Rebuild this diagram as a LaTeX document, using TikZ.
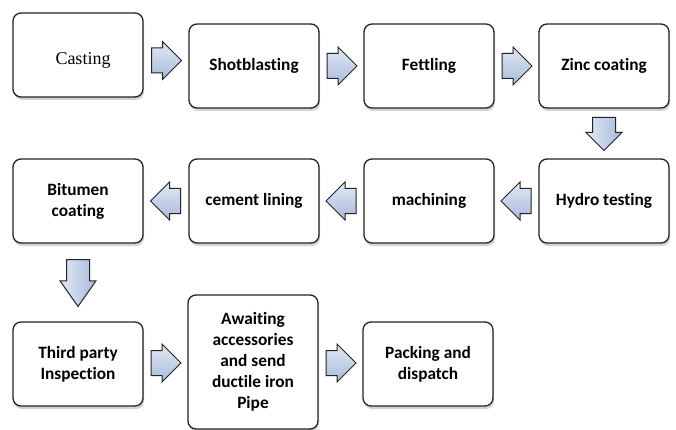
\documentclass[tikz,border=0pt]{standalone}
\usepackage{fontspec}
\setmainfont{Carlito}[Ligatures={NoCommon}]
\newfontfamily\timesfont{Liberation Serif}
\usetikzlibrary{calc,shadows,shapes.arrows}
\definecolor{arrowtop}{RGB}{226,233,245}
\definecolor{arrowbot}{RGB}{168,186,219}
\definecolor{edge}{RGB}{35,35,35}
\tikzset{
  stage/.style={draw=edge,line width=1.3pt,rounded corners=8pt,fill=white,
    drop shadow={shadow xshift=1pt,shadow yshift=-3pt,opacity=.35},
    minimum width=130pt,minimum height=84pt,align=center,
    font=\bfseries\fontsize{17.3}{21}\selectfont},
  flow/.style={single arrow,draw=edge,line width=1pt,top color=arrowtop,bottom color=arrowbot,
    minimum width=37pt,minimum height=30pt,inner xsep=0pt,inner ysep=12pt,
    single arrow head extend=6.5pt,anchor=tail},
  flow back/.style={flow,shape border rotate=180},
  flow down/.style={flow,rotate=-90,minimum width=33pt,inner ysep=11pt,left color=arrowtop,right color=arrowbot}
}

\begin{document}
\begin{tikzpicture}[x=1pt,y=-1pt]
      \useasboundingbox (0,0) rectangle (676,430);

      \node[stage,font=\timesfont\fontsize{18}{21}\selectfont,text height=22pt] (casting) at (78,55) {\hspace{10pt}Casting};
      \node[stage] (shot) at (254,66) {Shotblasting};
      \node[stage] (fettling) at (429,66) {Fettling};
      \node[stage] (zinc) at (604,66) {Zinc coating};

      \node[stage] (bitumen) at (78,201) {Bitumen\\coating};
      \node[stage] (cement) at (254,201) {cement lining};
      \node[stage] (machining) at (429,201) {machining};
      \node[stage] (hydro) at (604,201) {Hydro testing};

      \node[stage] (third) at (78,364) {Third party\\Inspection};
      \node[stage,minimum height=134pt] (awaiting) at (253,362) {Awaiting\\accessories\\and send\\ductile iron\\Pipe};
      \node[stage] (packing) at (428,364) {Packing and\\dispatch};

      % block arrows, tail put half a length before the gap's middle
      \node[flow] (a1) at ($(casting.east)!.5!(shot.west)+(-15,0)$) {};
      \node[flow] (a2) at ($(shot.east)!.5!(fettling.west)+(-15,0)$) {};
      \node[flow] (a3) at ($(fettling.east)!.5!(zinc.west)+(-15,0)$) {};
      \node[flow down,minimum height=33pt] (a4) at ($(zinc.south)!.5!(hydro.north)+(0,-16.5)$) {};
      \node[flow back] (a5) at ($(hydro.west)!.5!(machining.east)+(15,0)$) {};
      \node[flow back] (a6) at ($(machining.west)!.5!(cement.east)+(15,0)$) {};
      \node[flow back] (a7) at ($(cement.west)!.5!(bitumen.east)+(15,0)$) {};
      \node[flow down,minimum height=47pt,single arrow tip angle=70] (a8) at ($(bitumen.south)!.5!(third.north)+(0,-23.5)$) {};
      \node[flow] (a9) at ($(third.east)!.5!(awaiting.west)+(-15,0)$) {};
      \node[flow] (a10) at ($(awaiting.east)!.5!(packing.west)+(-15,0)$) {};
    \end{tikzpicture}
\end{document}
